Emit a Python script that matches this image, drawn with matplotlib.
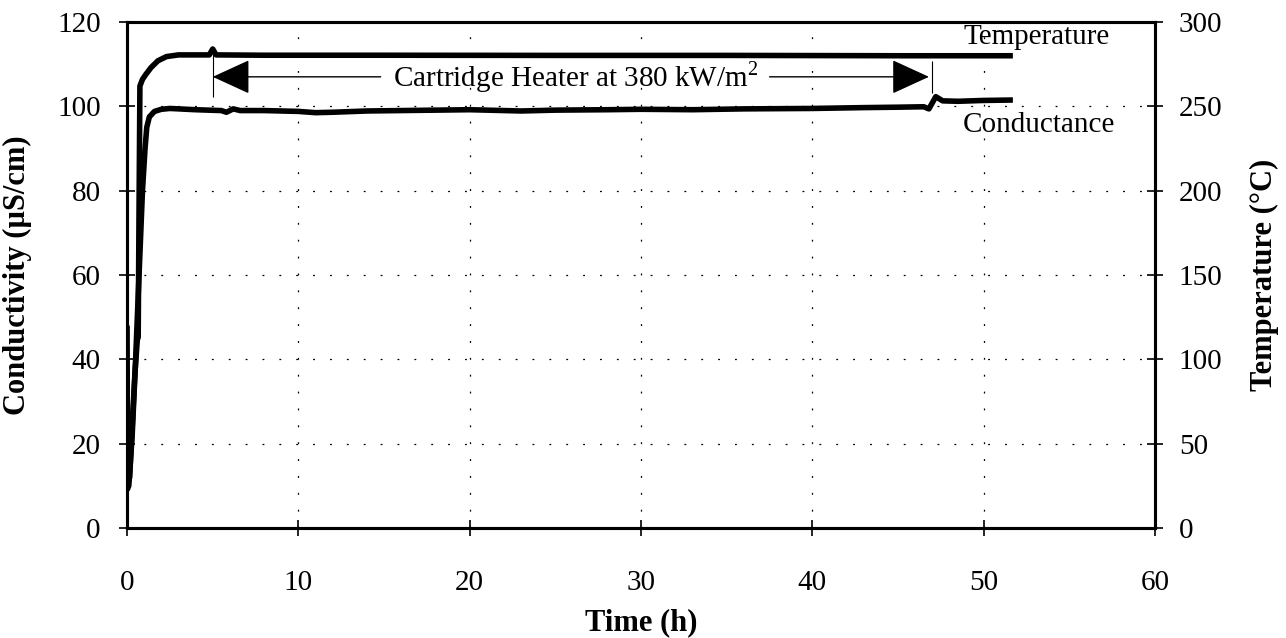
import matplotlib
matplotlib.use("Agg")
import matplotlib.pyplot as plt
import numpy as np

plt.rcParams['font.family'] = ['Liberation Serif', 'DejaVu Serif']
plt.rcParams['mathtext.fontset'] = 'custom'
plt.rcParams['mathtext.rm'] = 'Liberation Serif'

# ---- data ----
cond_t = [0, 0.1, 0.3, 0.5, 0.7, 0.9, 1.05, 1.15, 1.3, 1.6, 2.0, 2.5, 4, 5.5, 5.8,
          6.2, 6.6, 8, 10, 11, 12, 14, 16, 18, 20, 22, 23, 25, 28, 30, 33, 36,
          40, 43, 45, 46.5, 46.8, 47.2, 47.6, 48.5, 50, 51.7]
cond_v = [9, 10, 22, 40, 60, 80, 90, 95, 97.5, 98.8, 99.3, 99.5, 99.2, 99.0, 98.6,
          99.4, 99.0, 99.0, 98.8, 98.5, 98.6, 98.9, 99.0, 99.1, 99.2, 99.0, 98.9,
          99.1, 99.2, 99.3, 99.2, 99.4, 99.5, 99.7, 99.8, 99.9, 99.4, 102.3, 101.3,
          101.2, 101.4, 101.5]

temp_t = [0, 0.03, 0.15, 0.3, 0.45, 0.6, 0.65, 0.7, 0.75, 0.9, 1.1, 1.4, 1.8, 2.3,
          3.0, 4.8, 5.0, 5.2, 8, 15, 25, 35, 45, 51.7]
temp_v = [120, 25, 30, 60, 90, 112, 113, 190, 262, 266, 269, 273, 277, 279.5,
          280.5, 280.5, 284, 280.5, 280.3, 280.3, 280.2, 280.2, 280.0, 280.0]

arrow_y = 107
arrow_left = (14.8, 5.0)
arrow_right = (37.5, 46.8)
marker_x = [5.0, 47.0]
marker_ymin = [102.2, 103.2]
marker_ymax = [112.9, 110.8]

x_ticks = [0, 10, 20, 30, 40, 50, 60]
y_ticks = [0, 20, 40, 60, 80, 100, 120]
y2_ticks = [0, 50, 100, 150, 200, 250, 300]

# ---- figure ----
fig = plt.figure(figsize=(12.86, 6.38), dpi=100)
ax = fig.add_axes([0.0988, 0.1724, 0.7994, 0.7931])
ax2 = ax.twinx()

ax.plot(cond_t, cond_v, color='black', lw=4, solid_capstyle='butt', zorder=3)
ax2.plot(temp_t, temp_v, color='black', lw=4, solid_capstyle='butt', zorder=3)

ax.set_xlim(0, 60)
ax.set_ylim(0, 120)
ax2.set_ylim(0, 300)
ax.set_xticks(x_ticks)
ax.set_yticks(y_ticks)
ax2.set_yticks(y2_ticks)

ax.grid(True, color='black', lw=0.9, linestyle=(0, (1.5, 12)))

for a in (ax, ax2):
    for s in a.spines.values():
        s.set_linewidth(2.2)
ax.tick_params(axis='both', direction='inout', length=12, width=1.2,
               labelsize=21)
ax.tick_params(axis='y', pad=13)
ax.tick_params(axis='x', pad=24)
ax2.tick_params(axis='y', direction='inout', length=12, width=1.2,
                labelsize=21, pad=11)

ax.set_xlabel('Time (h)', fontsize=22, fontweight='bold', labelpad=9)
ax.set_ylabel('Conductivity (µS/cm)', fontsize=22, fontweight='bold', labelpad=18)
ax2.set_ylabel('Temperature (°C)', fontsize=22, fontweight='bold', labelpad=20)

# annotations
ap = dict(arrowstyle='-|>,head_length=1.2,head_width=0.55', lw=1, color='black',
          mutation_scale=20, shrinkA=0, shrinkB=0)
ax.annotate('', xy=(arrow_left[1], arrow_y), xytext=(arrow_left[0], arrow_y),
            arrowprops=ap, zorder=4)
ax.annotate('', xy=(arrow_right[1], arrow_y), xytext=(arrow_right[0], arrow_y),
            arrowprops=ap, zorder=4)
ax.vlines(marker_x, marker_ymin, marker_ymax, color='black', lw=0.8, zorder=4)
ax.text(26.2, arrow_y, 'Cartridge Heater at 380 kW/m$^2$', fontsize=21,
        ha='center', va='center', zorder=5)
ax.text(48.8, 116.5, 'Temperature', fontsize=21, ha='left', va='center')
ax.text(48.8, 95.6, 'Conductance', fontsize=21, ha='left', va='center')

fig.savefig('out.png', dpi=100)
